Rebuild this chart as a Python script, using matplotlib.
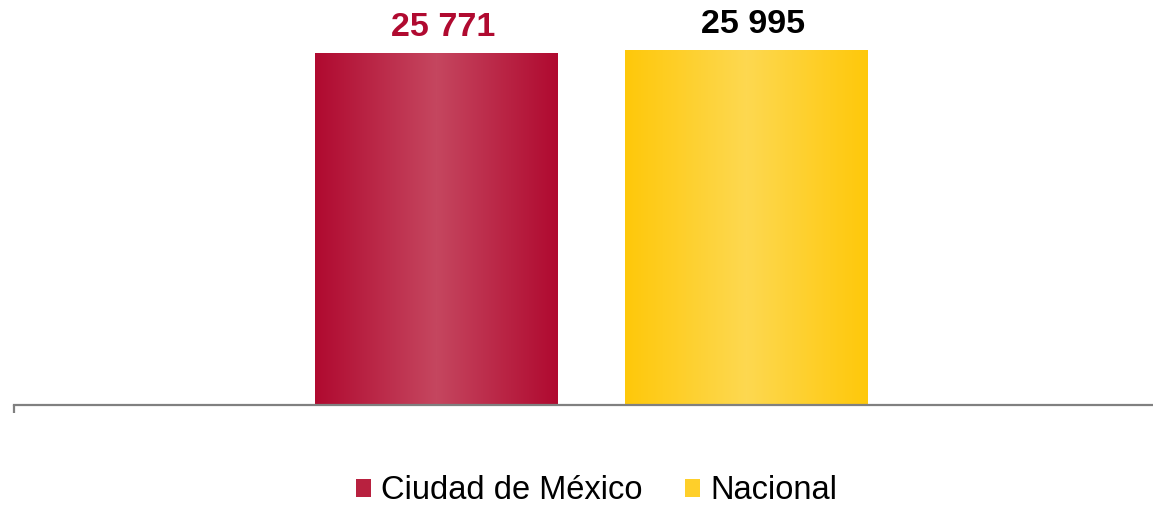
import numpy as np
import matplotlib
matplotlib.use("Agg")
import matplotlib.pyplot as plt
from matplotlib.colors import LinearSegmentedColormap
from matplotlib.patches import Rectangle

# Data
series = ["Ciudad de México", "Nacional"]
values = [25771, 25995]
value_labels = ["25 771", "25 995"]

# Styling
edge_colors = ["#B00A30", "#FFC80A"]
mid_colors = ["#C5465F", "#FDD850"]
legend_colors = ["#B8213F", "#FECF2A"]
label_colors = ["#B00A30", "#000000"]

plt.rcParams["font.family"] = ["Liberation Sans", "DejaVu Sans"]

fig = plt.figure(figsize=(11.53, 5.05), dpi=100)
ax = fig.add_axes([14 / 1153, 1 - 405 / 505, 1 - 14 / 1153, 405 / 505])

positions = np.arange(len(values))
bar_width = 0.785
bars = ax.bar(positions, values, width=bar_width, color="none", edgecolor="none", zorder=2)

# Horizontal gradient: darker at the edges, lighter through the middle
t = np.linspace(0, 1, 256)
profile = 1 - np.abs(2 * t - 1)
for rect, c_edge, c_mid in zip(bars, edge_colors, mid_colors):
    cmap = LinearSegmentedColormap.from_list("g", [c_edge, c_mid])
    x0, w, h = rect.get_x(), rect.get_width(), rect.get_height()
    im = ax.imshow(profile[np.newaxis, :], cmap=cmap, aspect="auto",
                   extent=(x0, x0 + w, 0, h), interpolation="bilinear", zorder=2)
    im.set_clip_path(rect)

for x, v, lab, col in zip(positions, values, value_labels, label_colors):
    ax.annotate(lab, (x, v), xytext=(5, 12.2), textcoords="offset points",
                ha="center", va="baseline", fontsize=24.5, fontweight="bold", color=col)

ax.set_xlim(-1.365, 2.315)
ax.set_ylim(0, max(values) * 405 / 355)

for s in ["top", "right", "left"]:
    ax.spines[s].set_visible(False)
ax.spines["bottom"].set_color("#808080")
ax.spines["bottom"].set_linewidth(1.6)
ax.set_yticks([])
ax.set_xticks([-1.365])
ax.set_xticklabels([""])
ax.tick_params(axis="x", length=6, width=1.6, color="#808080")

# Legend
handles = [Rectangle((0, 0), 1, 1, facecolor=c) for c in legend_colors]
fig.legend(handles, series, loc="center", bbox_to_anchor=(0.5174, 0.028),
           ncol=2, frameon=False, fontsize=23.5, handlelength=0.45, handleheight=0.45,
           handletextpad=0.32, columnspacing=1.3)

fig.savefig("out.png", dpi=100)
